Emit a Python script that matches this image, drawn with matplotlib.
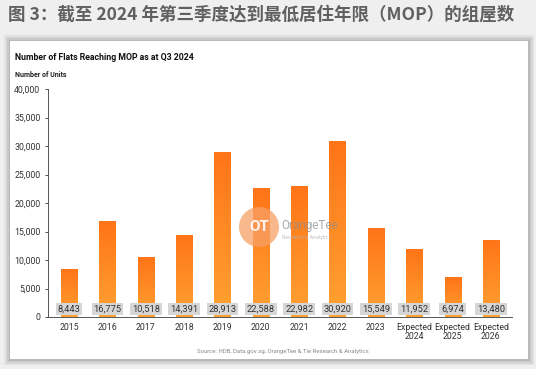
import numpy as np
import matplotlib.pyplot as plt
from matplotlib.patches import Rectangle, Ellipse
from matplotlib.colors import LinearSegmentedColormap

plt.rcParams['font.family'] = ['Roboto', 'Noto Sans CJK SC', 'DejaVu Sans']

categories = ["2015", "2016", "2017", "2018", "2019", "2020", "2021", "2022", "2023",
              "Expected\n2024", "Expected\n2025", "Expected\n2026"]
units = [8443, 16775, 10518, 14391, 28913, 22588, 22982, 30920, 15549, 11952, 6974, 13480]

W, H = 536, 369
fig = plt.figure(figsize=(W / 100, H / 100), dpi=100)
fig.patch.set_facecolor('#efefef')

# white panel with soft shadow
for i, a in enumerate([0.05, 0.05, 0.06, 0.08]):
    d = (4 - i) * 1.5
    fig.patches.append(Rectangle(((10 - d) / W, 1 - (359 + d) / H), (518 + 2 * d) / W, (318 + 2 * d) / H,
                                 transform=fig.transFigure, facecolor='black', alpha=a,
                                 edgecolor='none', zorder=-2))
fig.patches.append(Rectangle((10 / W, 1 - 359 / H), 518 / W, 318 / H,
                             transform=fig.transFigure, facecolor='white', edgecolor='none', zorder=-1))

fig.text(8 / W, 1 - 15 / H, "图 3：截至 2024 年第三季度达到最低居住年限（MOP）的组屋数",
         fontsize=12.6, fontweight='bold', color='#606060', va='center', ha='left',
         family=['Noto Sans CJK SC', 'DejaVu Sans'])
fig.text(15 / W, 1 - 57 / H, "Number of Flats Reaching MOP as at Q3 2024",
         fontsize=6.3, fontweight='bold', color='#111111', va='center')
fig.text(15 / W, 1 - 75 / H, "Number of Units", fontsize=5, fontweight='bold', color='#222222', va='center')
fig.text(283 / W, 1 - 351 / H, "Source: HDB, Data.gov.sg, OrangeTee & Tie Research & Analytics",
         fontsize=4.3, color='#8a8a8a', ha='center', va='center')

ax = fig.add_axes([48 / W, 1 - 317 / H, (512 - 48) / W, (317 - 89) / H])
ax.set_facecolor('none')
x = np.arange(len(categories))

# gradient fill for bars
grad = np.linspace(0, 1, 256).reshape(-1, 1)
cmap = LinearSegmentedColormap.from_list('og', ['#ffa232', '#ff7418'])
bw = 0.42
for xi, v in zip(x, units):
    im = ax.imshow(grad, cmap=cmap, aspect='auto', origin='lower',
                   extent=[xi - bw / 2, xi + bw / 2, 0, v], zorder=2)
    im.set_clip_path(Rectangle((xi - bw / 2, 0), bw, v, transform=ax.transData))
    ax.text(xi, 1400, f"{v:,}", ha='center', va='center', fontsize=6.7, color='#333333', zorder=4,
            bbox=dict(boxstyle='square,pad=0.2', facecolor='#d6d6d6', edgecolor='none'))
ax.set_xlim(-0.55, len(categories) - 0.45)
ax.set_ylim(0, 40000)

ax.set_yticks(np.arange(0, 40001, 5000))
ax.set_yticklabels([f"{t:,}" for t in range(0, 40001, 5000)])
ax.set_xticks(x)
ax.set_xticklabels(categories, linespacing=1.1)
ax.tick_params(axis='y', labelsize=6.3, colors='#333333', length=2.5, width=0.6, pad=3)
ax.tick_params(axis='x', labelsize=6.3, colors='#333333', length=0, pad=4)
for s in ['top', 'right']:
    ax.spines[s].set_visible(False)
for s in ['left', 'bottom']:
    ax.spines[s].set_color('#555555')
    ax.spines[s].set_linewidth(0.7)

# watermark logo
cx, cy = 259 / W, 1 - 227 / H
fig.patches.append(Ellipse((cx, cy), 40 / W, 40 / H, transform=fig.transFigure, facecolor='#f7a066',
                           edgecolor='none', alpha=0.75, zorder=5))
fig.text(cx, cy, "OT", fontsize=11, color='white', ha='center', va='center', fontweight='bold',
         alpha=0.9, zorder=6)
fig.text(281 / W, 1 - 226 / H, "OrangeTee", fontsize=8.5, color='#8c8c8c', alpha=0.75, va='center', zorder=6)
fig.text(282 / W, 1 - 238 / H, "Research & Analytics", fontsize=3.8, color='#b0b0b0', alpha=0.8,
         va='center', zorder=6)

fig.savefig("out.png", dpi=100, facecolor=fig.get_facecolor())
